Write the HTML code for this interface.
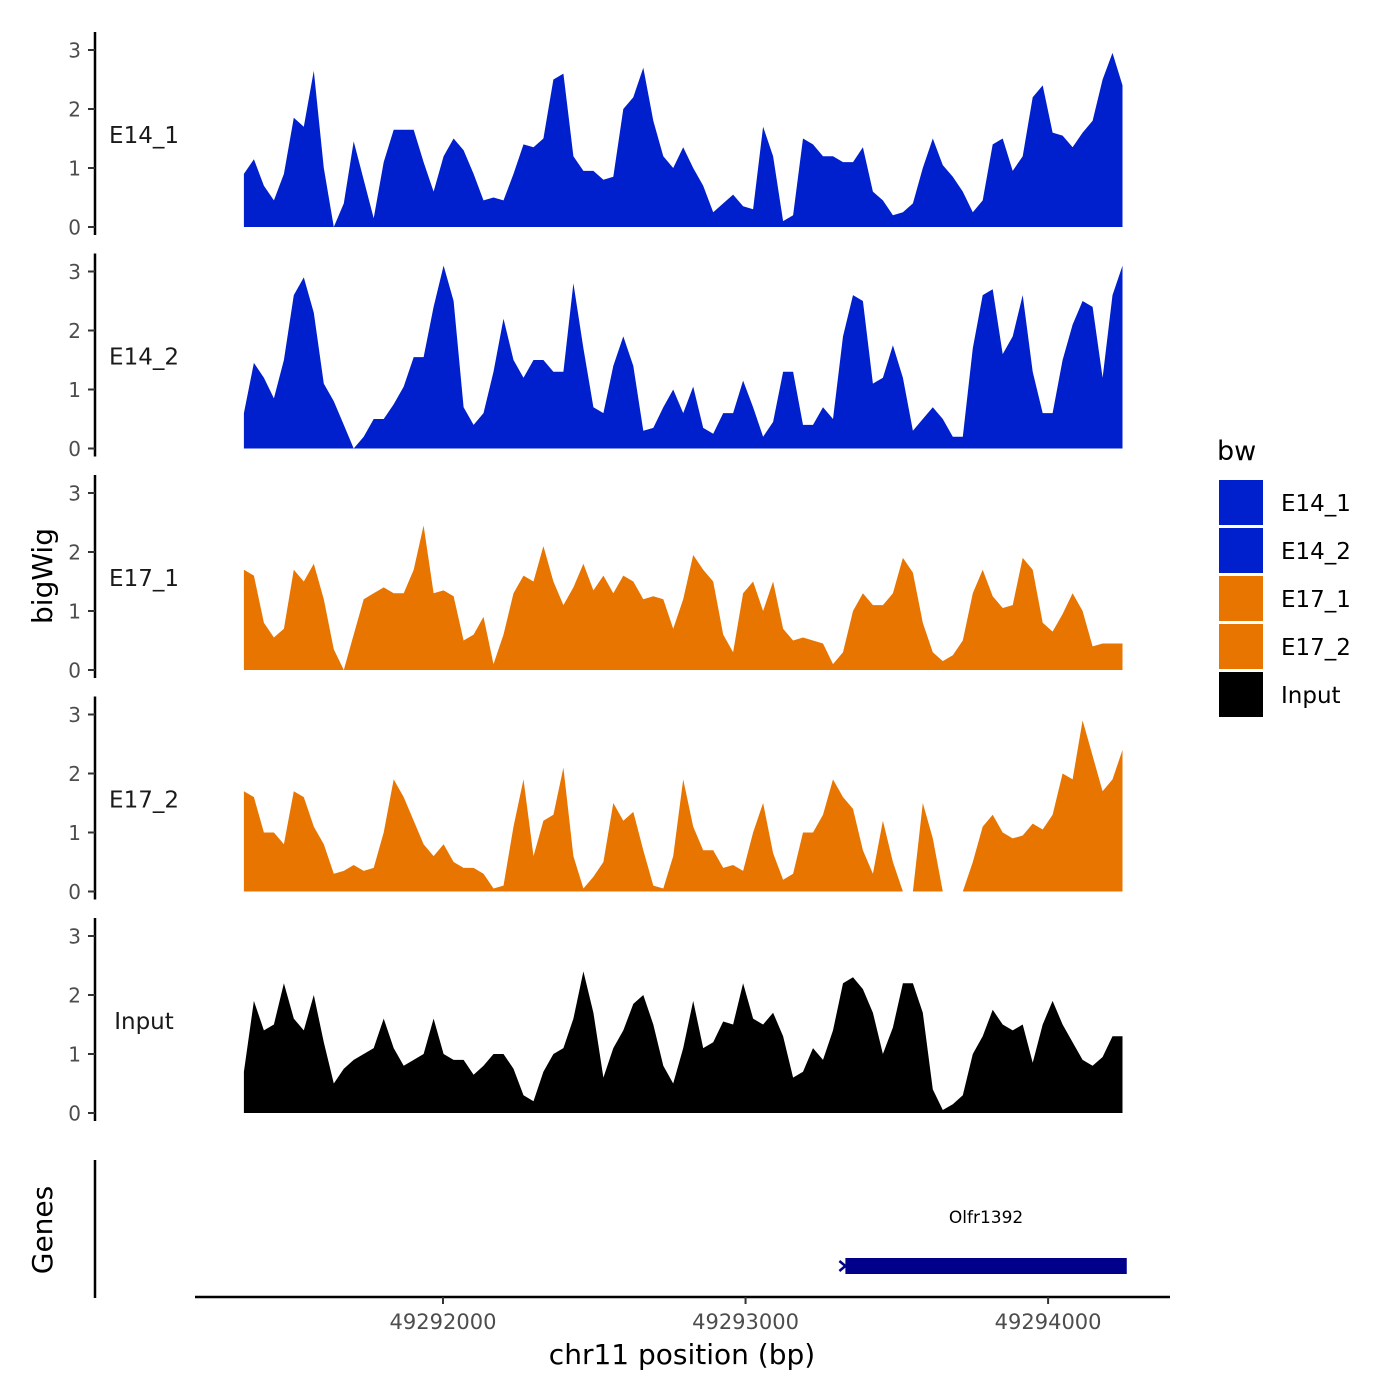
<!DOCTYPE html>
<html><head><meta charset="utf-8">
<style>
html,body{margin:0;padding:0;background:#fff;}
svg{display:block;font-family:"DejaVu Sans","Liberation Sans",sans-serif;}
</style></head>
<body>
<svg id="chart" width="1400" height="1400" viewBox="0 0 1400 1400" xmlns="http://www.w3.org/2000/svg">
  <rect x="0" y="0" width="1400" height="1400" fill="#fff"/>
  <g id="tracks"></g>
  <text x="52" y="576" transform="rotate(-90 52 576)" text-anchor="middle" font-size="28" fill="#000">bigWig</text>
  <text x="52" y="1230" transform="rotate(-90 52 1230)" text-anchor="middle" font-size="28" fill="#000">Genes</text>
  <line x1="95" y1="1160" x2="95" y2="1298" stroke="#000" stroke-width="2.5"/>
  <g id="genes"></g>
  <g id="xaxis"></g>
  <text x="682" y="1364" text-anchor="middle" font-size="28" fill="#000">chr11 position (bp)</text>
  <g id="legend"></g>
</svg>
<script>
const trackNames = ["E14_1","E14_2","E17_1","E17_2","Input"];
const trackColors = ["#0020CE","#0020CE","#E87500","#E87500","#000000"];
const startBp = 49291342;
const stepBp = 33;
const yTicks = [0,1,2,3];
const xTicks = [49292000,49293000,49294000];
const xTickLabels = ["49292000","49293000","49294000"];
const geneName = "Olfr1392";
const geneStart = 49293330;
const geneEnd = 49294260;

const valsE14_1 = [0.9,1.15,0.7,0.45,0.9,1.85,1.7,2.65,1.0,0.0,0.4,1.45,0.8,0.15,1.1,1.65,1.65,1.65,1.1,0.6,1.2,1.5,1.3,0.9,0.45,0.5,0.45,0.9,1.4,1.35,1.5,2.5,2.6,1.2,0.95,0.95,0.8,0.85,2.0,2.2,2.7,1.8,1.2,1.0,1.35,1.0,0.7,0.25,0.4,0.55,0.35,0.3,1.7,1.2,0.1,0.2,1.5,1.4,1.2,1.2,1.1,1.1,1.35,0.6,0.45,0.2,0.25,0.4,1.0,1.5,1.05,0.85,0.6,0.25,0.45,1.4,1.5,0.95,1.2,2.2,2.4,1.6,1.55,1.35,1.6,1.8,2.5,2.95,2.4];
const valsE14_2 = [0.6,1.45,1.2,0.85,1.5,2.6,2.9,2.3,1.1,0.8,0.4,0.0,0.2,0.5,0.5,0.75,1.05,1.55,1.55,2.4,3.1,2.5,0.7,0.4,0.6,1.3,2.2,1.5,1.2,1.5,1.5,1.3,1.3,2.8,1.7,0.7,0.6,1.4,1.9,1.4,0.3,0.35,0.7,1.0,0.6,1.05,0.35,0.25,0.6,0.6,1.15,0.7,0.2,0.45,1.3,1.3,0.4,0.4,0.7,0.5,1.9,2.6,2.5,1.1,1.2,1.75,1.2,0.3,0.5,0.7,0.5,0.2,0.2,1.7,2.6,2.7,1.6,1.9,2.6,1.3,0.6,0.6,1.5,2.1,2.5,2.4,1.2,2.6,3.1];
const valsE17_1 = [1.7,1.6,0.8,0.55,0.7,1.7,1.5,1.8,1.2,0.35,0.0,0.6,1.2,1.3,1.4,1.3,1.3,1.7,2.45,1.3,1.35,1.25,0.5,0.6,0.9,0.1,0.6,1.3,1.6,1.5,2.1,1.5,1.1,1.4,1.8,1.35,1.6,1.3,1.6,1.5,1.2,1.25,1.2,0.7,1.2,1.95,1.7,1.5,0.6,0.3,1.3,1.5,1.0,1.5,0.7,0.5,0.55,0.5,0.45,0.1,0.3,1.0,1.3,1.1,1.1,1.3,1.9,1.65,0.8,0.3,0.15,0.25,0.5,1.3,1.7,1.25,1.05,1.1,1.9,1.7,0.8,0.65,0.95,1.3,1.0,0.4,0.45,0.45,0.45];
const valsE17_2 = [1.7,1.6,1.0,1.0,0.8,1.7,1.6,1.1,0.8,0.3,0.35,0.45,0.35,0.4,1.0,1.9,1.6,1.2,0.8,0.6,0.8,0.5,0.4,0.4,0.3,0.05,0.1,1.1,1.9,0.6,1.2,1.3,2.1,0.6,0.05,0.25,0.5,1.5,1.2,1.35,0.7,0.1,0.05,0.6,1.9,1.1,0.7,0.7,0.4,0.45,0.35,1.0,1.5,0.65,0.2,0.3,1.0,1.0,1.3,1.9,1.6,1.4,0.7,0.3,1.2,0.5,0.0,0.0,1.5,0.9,0.0,0.0,0.0,0.5,1.1,1.3,1.0,0.9,0.95,1.15,1.05,1.3,2.0,1.9,2.9,2.3,1.7,1.9,2.4];
const valsInput = [0.7,1.9,1.4,1.5,2.2,1.6,1.4,2.0,1.2,0.5,0.75,0.9,1.0,1.1,1.6,1.1,0.8,0.9,1.0,1.6,1.0,0.9,0.9,0.65,0.8,1.0,1.0,0.75,0.3,0.2,0.7,1.0,1.1,1.6,2.4,1.7,0.6,1.1,1.4,1.85,2.0,1.5,0.8,0.5,1.1,1.9,1.1,1.2,1.55,1.5,2.2,1.6,1.5,1.7,1.3,0.6,0.7,1.1,0.9,1.4,2.2,2.3,2.1,1.7,1.0,1.45,2.2,2.2,1.7,0.4,0.05,0.15,0.3,1.0,1.3,1.75,1.5,1.4,1.5,0.85,1.5,1.9,1.5,1.2,0.9,0.8,0.95,1.3,1.3];
const trackValues = [valsE14_1,valsE14_2,valsE17_1,valsE17_2,valsInput];

const NS = "http://www.w3.org/2000/svg";
function xScale(bp){ return 443 + (bp - 49292000) * 0.30255; }
function trackZero(i){ return 227 + i * 221.5; }
function yScale(i, v){ return trackZero(i) - v * 59; }
function mk(tag, attrs, parent){ const e=document.createElementNS(NS,tag); for(const k in attrs) e.setAttribute(k,attrs[k]); parent.appendChild(e); return e; }

const tracksG = document.getElementById('tracks');
trackNames.forEach((name, i) => {
  const g = mk('g', {}, tracksG);
  
  
  const z = trackZero(i);
  const axis = mk('line', {x1:95,y1:z-195,x2:95,y2:z+8,stroke:'#000','stroke-width':2.5}, g);
  
  
  yTicks.forEach(t => {
    const y = yScale(i, t);
    const tk = mk('line', {x1:88,y1:y,x2:95,y2:y,stroke:'#333','stroke-width':2}, g);
    
    
    const tl = mk('text', {x:81,y:y+7.5,'text-anchor':'end','font-size':20,fill:'#4d4d4d'}, g);
    tl.textContent = String(t);
    
    
  });
  const vals = trackValues[i];
  let d = 'M' + xScale(startBp).toFixed(1) + ',' + z;
  vals.forEach((v, j) => {
    d += ' L' + xScale(startBp + j*stepBp).toFixed(1) + ',' + yScale(i, v).toFixed(1);
  });
  d += ' L' + xScale(startBp + (vals.length-1)*stepBp).toFixed(1) + ',' + z + ' Z';
  const area = mk('path', {d:d, fill:trackColors[i]}, g);
  
  
  const lab = mk('text', {x:144,y:z-84,'text-anchor':'middle','font-size':23,fill:'#1a1a1a'}, g);
  lab.textContent = name;
  
  
});

const genesG = document.getElementById('genes');
const gx1 = xScale(geneStart), gx2 = xScale(geneEnd);
const bar = mk('rect', {x:gx1,y:1258,width:gx2-gx1,height:16,fill:'#00008B'}, genesG);


const arrow = mk('path', {d:'M'+(gx1-6)+',1261 L'+(gx1)+',1266 L'+(gx1-6)+',1271',stroke:'#00008B','stroke-width':2.5,fill:'none'}, genesG);


const gl = mk('text', {x:(gx1+gx2)/2,y:1223,'text-anchor':'middle','font-size':17,fill:'#000'}, genesG);
gl.textContent = geneName;



const xa = document.getElementById('xaxis');
const xl = mk('line', {x1:195,y1:1297,x2:1170,y2:1297,stroke:'#000','stroke-width':2.5}, xa);


xTicks.forEach((t, k) => {
  const x = xScale(t);
  const tk = mk('line', {x1:x,y1:1297,x2:x,y2:1304,stroke:'#333','stroke-width':2}, xa);
  
  
  const tl = mk('text', {x:x,y:1329,'text-anchor':'middle','font-size':21,fill:'#4d4d4d'}, xa);
  tl.textContent = xTickLabels[k];
  
  
});

const lg = document.getElementById('legend');
const lt = mk('text', {x:1217,y:460,'font-size':27,fill:'#000'}, lg);
lt.textContent = 'bw';


trackNames.forEach((name, i) => {
  const y = 480 + i*48;
  const eg = mk('g', {}, lg);
  
  
  const sw = mk('rect', {x:1219,y:y,width:44,height:45,fill:trackColors[i]}, eg);
  
  
  const tx = mk('text', {x:1281,y:y+31,'font-size':23,fill:'#000'}, eg);
  tx.textContent = name;
  
  
});
</script>
</body></html>
